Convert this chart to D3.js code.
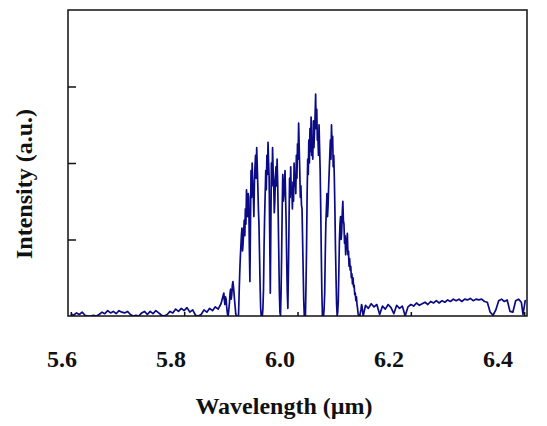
<!DOCTYPE html>
<html>
<head>
<meta charset="utf-8">
<script src="https://cdn.jsdelivr.net/npm/d3@7"></script>
<style>
  html, body { margin: 0; padding: 0; background: #fff; }
  svg { display: block; }
  text { font-family: "Liberation Serif", "Times New Roman", serif; font-weight: bold; fill: #111; }
</style>
</head>
<body>
<svg id="chart" width="547" height="426"></svg>
<script>
// ---- data ----
const xTickLabels = ["5.6", "5.8", "6.0", "6.2", "6.4"];
const xTickValues = [5.6, 5.8, 6.0, 6.2, 6.4];
const yTickValues = [1, 2, 3];
const xTitle = "Wavelength (\u00b5m)";
const yTitle = "Intensity (a.u.)";

const baseLeftWl = [5.600,5.605,5.610,5.615,5.620,5.625,5.630,5.635,5.640,5.645,5.650,5.655,5.660,5.665,5.670,5.675,5.680,5.685,5.690,5.695,5.700,5.705,5.710,5.715,5.720,5.725,5.730,5.735,5.740,5.745,5.750,5.755,5.760,5.765,5.770,5.775,5.780,5.785,5.790,5.795,5.800,5.805,5.810,5.815,5.820,5.825,5.830,5.835,5.840,5.845,5.850,5.855,5.860,5.865];
const baseLeftI  = [0.03,0.01,0.04,0.02,0.05,0.01,0.00,0.00,0.01,0.00,0.02,0.05,0.03,0.07,0.04,0.06,0.03,0.07,0.05,0.04,0.06,0.02,0.00,0.01,0.00,0.04,0.06,0.02,0.06,0.03,0.07,0.04,0.01,0.00,0.02,0.06,0.04,0.09,0.06,0.10,0.07,0.11,0.05,0.08,0.01,0.00,0.02,0.08,0.05,0.10,0.07,0.12,0.09,0.16];

// emission band 5.870 .. 6.116, step 0.001
const bandStart = 5.870, bandStep = 0.001;
const bandI = [
 0.30,0.20,0.15,0.25,0.22,0.12,0.05,0.00,0.02,0.10,
 0.18,0.30,0.35,0.22,0.28,0.40,0.45,0.38,0.30,0.20,
 0.12,0.03,0.00,0.00,0.00,0.00,0.02,0.30,0.55,0.75,
 0.90,1.05,1.15,0.85,0.95,1.10,1.25,1.05,1.40,1.20,
 1.65,1.45,1.30,1.60,1.55,0.90,0.45,1.20,1.90,1.55,
 2.00,1.70,1.60,1.30,1.75,1.95,2.10,1.80,2.20,1.95,
 1.70,1.40,1.20,0.80,0.40,0.10,0.00,0.00,0.00,0.10,
 0.35,0.90,1.30,1.60,1.90,1.65,2.10,1.85,2.27,2.00,
 1.80,1.00,0.30,1.20,2.00,1.70,2.20,1.90,1.75,1.35,
 1.50,1.80,1.95,1.70,2.05,1.75,1.30,0.80,0.30,0.05,
 0.00,0.30,0.80,1.40,1.85,1.50,1.60,1.75,1.90,1.55,
 1.20,0.70,0.30,0.10,0.60,1.20,1.80,1.55,1.95,1.60,
 1.65,1.40,1.75,1.50,2.00,1.70,1.85,1.60,2.10,1.80,
 2.25,2.05,2.52,2.20,1.90,1.55,1.70,1.45,1.40,1.00,
 0.60,0.20,0.00,0.00,0.00,0.40,0.90,1.60,2.05,1.85,
 2.30,2.00,2.45,2.15,2.60,2.10,2.30,2.05,2.55,2.20,
 2.40,2.60,2.90,2.45,2.70,2.30,2.35,2.10,2.50,2.20,
 1.90,1.40,0.80,0.30,0.00,0.00,0.00,0.10,0.30,0.80,
 1.20,1.40,1.60,1.30,1.45,1.70,1.90,2.10,2.30,2.05,
 2.50,2.20,2.35,1.95,2.10,1.80,1.40,0.90,0.50,0.15,
 0.00,0.05,0.20,0.60,1.00,1.20,1.30,1.00,1.10,1.35,
 1.50,1.25,1.20,0.95,1.05,0.80,0.90,1.00,1.08,0.80,
 0.85,0.65,0.75,0.60,0.65,0.50,0.55,0.42,0.50,0.38,
 0.40,0.28,0.30,0.20,0.25,0.15,0.10,0.03,0.00,0.00,
 0.00,0.05,0.08,0.15,0.12,0.05,0.00
];

const baseRightWl = [6.120,6.125,6.130,6.135,6.140,6.145,6.150,6.155,6.160,6.165,6.170,6.175,6.180,6.185,6.190,6.195,6.200,6.205,6.210,6.215,6.220,6.225,6.230,6.235,6.240,6.245,6.250,6.255,6.260,6.265,6.270,6.275,6.280,6.285,6.290,6.295,6.300,6.305,6.310,6.315,6.320,6.325,6.330,6.335,6.340,6.345,6.350,6.355,6.360,6.365,6.370,6.375,6.380,6.385,6.390,6.395,6.398,6.402];
const baseRightI  = [0.14,0.10,0.16,0.12,0.15,0.02,0.13,0.09,0.15,0.11,0.03,0.14,0.10,0.13,0.00,0.12,0.15,0.13,0.17,0.14,0.16,0.18,0.15,0.19,0.17,0.20,0.17,0.20,0.18,0.21,0.19,0.22,0.20,0.22,0.19,0.22,0.21,0.23,0.20,0.22,0.21,0.22,0.19,0.18,0.05,0.01,0.08,0.20,0.22,0.19,0.21,0.06,0.05,0.20,0.22,0.18,0.02,0.21];

// ---- assemble series ----
const series = [];
baseLeftWl.forEach((w, i) => series.push([w, baseLeftI[i]]));
bandI.forEach((v, i) => series.push([+(bandStart + i * bandStep).toFixed(3), v]));
baseRightWl.forEach((w, i) => series.push([w, baseRightI[i]]));

// ---- layout ----
const svg = d3.select("#chart");
const plotL = 68, plotR = 527, plotT = 10, plotB = 316;

const x = d3.scaleLinear().domain([5.595, 6.405]).range([plotL, plotR]);
const y = d3.scaleLinear().domain([0, 4]).range([plotB, plotT]);
// tick labels in the original are set slightly narrower than the tick marks
const xLab = d3.scaleLinear().domain([5.6, 6.4]).range([62, 498]);

svg.append("clipPath").attr("id", "clip")
  .append("rect").attr("x", plotL).attr("y", plotT).attr("width", plotR - plotL).attr("height", plotB - plotT);

// data line
svg.append("path")
  .datum(series)
  .attr("clip-path", "url(#clip)")
  .attr("fill", "none")
  .attr("stroke", "#0b0b85")
  .attr("stroke-width", 1.7)
  .attr("stroke-linejoin", "round")
  .attr("d", d3.line().x(d => x(d[0])).y(d => y(d[1])));

// axes ticks (inward)
const gx = svg.append("g").attr("transform", `translate(0,${plotB})`)
  .call(d3.axisBottom(x).tickValues(xTickValues).tickSize(-4).tickFormat(""));
gx.select(".domain").remove();
gx.selectAll(".tick line").attr("stroke", "#111").attr("stroke-width", 1.5);

const gy = svg.append("g").attr("transform", `translate(${plotL},0)`)
  .call(d3.axisLeft(y).tickValues(yTickValues).tickSize(-8).tickFormat(""));
gy.select(".domain").remove();
gy.selectAll(".tick line").attr("stroke", "#111").attr("stroke-width", 1.5);

// frame
svg.append("rect")
  .attr("x", plotL).attr("y", plotT)
  .attr("width", plotR - plotL).attr("height", plotB - plotT)
  .attr("fill", "none").attr("stroke", "#111").attr("stroke-width", 1.5);

// x tick labels
svg.append("g").selectAll("text")
  .data(xTickValues)
  .join("text")
  .attr("x", d => xLab(d))
  .attr("y", 367)
  .attr("text-anchor", "middle")
  .attr("font-size", 24)
  .text((d, i) => xTickLabels[i]);

// axis titles
svg.append("text")
  .attr("x", 284).attr("y", 414)
  .attr("text-anchor", "middle")
  .attr("font-size", 24)
  .text(xTitle);

svg.append("text")
  .attr("transform", "translate(32,184) rotate(-90)")
  .attr("text-anchor", "middle")
  .attr("font-size", 24)
  .text(yTitle);
</script>
</body>
</html>
